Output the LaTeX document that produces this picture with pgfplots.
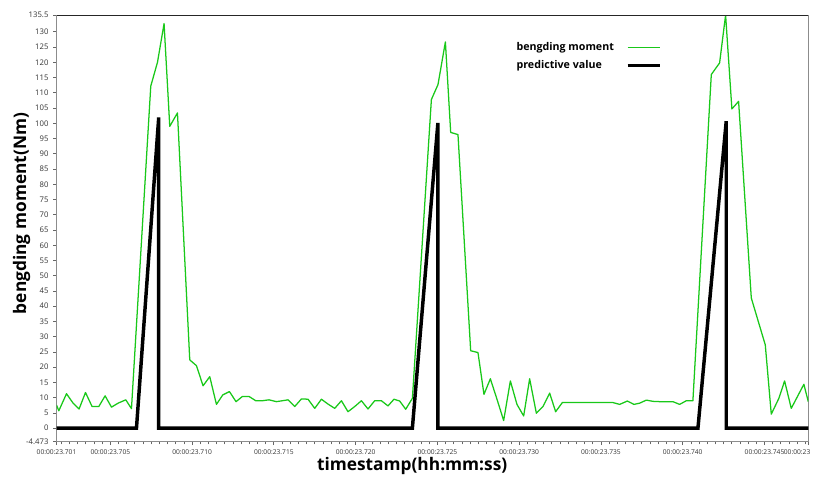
\documentclass[border=0pt]{standalone}
\usepackage{fontspec}
\setmainfont{Open Sans}
\usepackage{pgfplots}
\pgfplotsset{compat=1.18}
\definecolor{bmgreen}{RGB}{25,200,25}
\begin{document}
\begin{tikzpicture}
\begin{axis}[
  at={(0,0)}, anchor=south west,
  scale only axis, width=564.2pt, height=320.25pt,
  xmin=1.71, xmax=47.68, ymin=-4.473, ymax=135.5,
  axis line style={draw=black!45, line width=0.8pt},
  tick align=outside, xtick pos=bottom, ytick pos=left,
  major tick length=2.5pt, minor tick length=2pt,
  every tick/.style={black!60, line width=0.6pt},
  ytick={-4.473,0,5,10,15,20,25,30,35,40,45,50,55,60,65,70,75,80,85,90,95,100,105,110,115,120,125,130,135.5},
  yticklabel style={font=\fontsize{5.8}{6}\selectfont, text=black!80, /pgf/number format/.cd, fixed, precision=3},
  xtick={1.71,5,10,15,20,25,30,35,40,45},
  xticklabels={00:00:23.701,00:00:23.705,00:00:23.710,00:00:23.715,00:00:23.720,00:00:23.725,00:00:23.730,00:00:23.735,00:00:23.740,00:00:23.745},
  xticklabel style={font=\fontsize{5}{6}\selectfont, text=black!80, inner xsep=0.5pt},
  extra x ticks={47.68},
  extra x tick labels={00:00:23},
  extra x tick style={xticklabel style={anchor=north east, xshift=2.2pt}},
  minor xtick={2,2.5,...,47.5},
  /pgf/number format/assume math mode=true,
  xlabel={timestamp(hh:mm:ss)},
  ylabel={bengding moment(Nm)},
  xlabel style={font=\bfseries\fontsize{13}{15}\selectfont, at={(axis description cs:0.473,-0.057)}, anchor=center},
  ylabel style={font=\bfseries\fontsize{13}{15}\selectfont, at={(axis description cs:-0.0465,0.535)}, anchor=center},
  legend style={draw=none, fill=none, at={(axis description cs:0.6045,0.946)}, anchor=north west,
    font=\bfseries\fontsize{8}{9.5}\selectfont, row sep=4pt, column sep=8pt, nodes={inner sep=1pt}},
  legend cell align=left,
  legend plot pos=right,
  legend image code/.code={\draw[#1] (0pt,0pt) -- (24pt,0pt);},
]
\addplot[bmgreen, line width=0.95pt, line join=round] coordinates {
(1.71,7.6) (1.851,5.7) (2.321,11.3) (2.725,8.2) (3.091,6.3) (3.483,11.7) (3.886,7.1) (4.296,7.1) (4.681,10.6) (5.072,6.9) (5.475,8.2) (5.946,9.3) (6.294,6.4) (7.474,112.2) (7.884,120.0) (8.287,132.7) (8.635,99.0) (9.106,103.4) (9.858,22.4) (10.268,20.5) (10.671,13.9) (11.080,16.9) (11.490,7.8) (11.875,10.9) (12.285,12.0) (12.688,8.7) (13.079,10.4) (13.483,10.4) (13.892,9.0) (14.302,9.0) (14.705,9.3) (15.158,8.7) (15.524,9.0) (15.867,9.3) (16.276,7.1) (16.686,9.6) (17.089,9.5) (17.499,6.5) (17.908,9.5) (18.312,7.9) (18.721,6.5) (19.131,9.0) (19.534,5.4) (19.944,7.1) (20.353,9.0) (20.757,6.3) (21.166,9.0) (21.576,9.0) (21.979,7.3) (22.346,9.5) (22.694,8.9) (23.061,6.2) (23.471,9.8) (24.632,107.8) (25.036,112.7) (25.488,126.7) (25.812,97.0) (26.258,96.3) (27.034,25.4) (27.480,24.8) (27.847,11.1) (28.238,16.2) (28.642,9.5) (29.051,2.5) (29.461,15.5) (29.864,7.8) (30.274,4.0) (30.640,16.2) (31.050,4.9) (31.453,7.1) (31.863,11.5) (32.229,5.4) (32.639,8.4) (35.732,8.4) (36.142,7.8) (36.613,8.9) (37.016,7.8) (37.365,8.2) (37.774,9.2) (38.177,8.8) (38.587,8.7) (39.400,8.7) (39.809,7.8) (40.219,9.0) (40.622,9.0) (41.747,116.0) (42.254,119.8) (42.621,135.5) (43.006,104.7) (43.416,107.2) (44.192,42.7) (45.048,27.3) (45.414,4.6) (45.879,9.8) (46.228,15.5) (46.636,6.5) (47.407,14.4) (47.676,8.7)
};
\addlegendentry{bengding moment}
\addplot[black, line width=2.6pt] coordinates {
(1.71,0) (6.60,0) (7.96,101.9) (7.96,0) (23.47,0) (25.03,100.1) (25.03,0) (40.93,0) (42.66,100.7) (42.66,0) (47.68,0)
};
\addlegendentry{predictive value}
\draw[black!85, line width=0.8pt] (rel axis cs:0,1) -- (rel axis cs:1,1);
\end{axis}
\pgfresetboundingbox
\path[use as bounding box] (-42.4pt,-27.75pt) rectangle (569.2pt,331.55pt);
\end{tikzpicture}
\end{document}
